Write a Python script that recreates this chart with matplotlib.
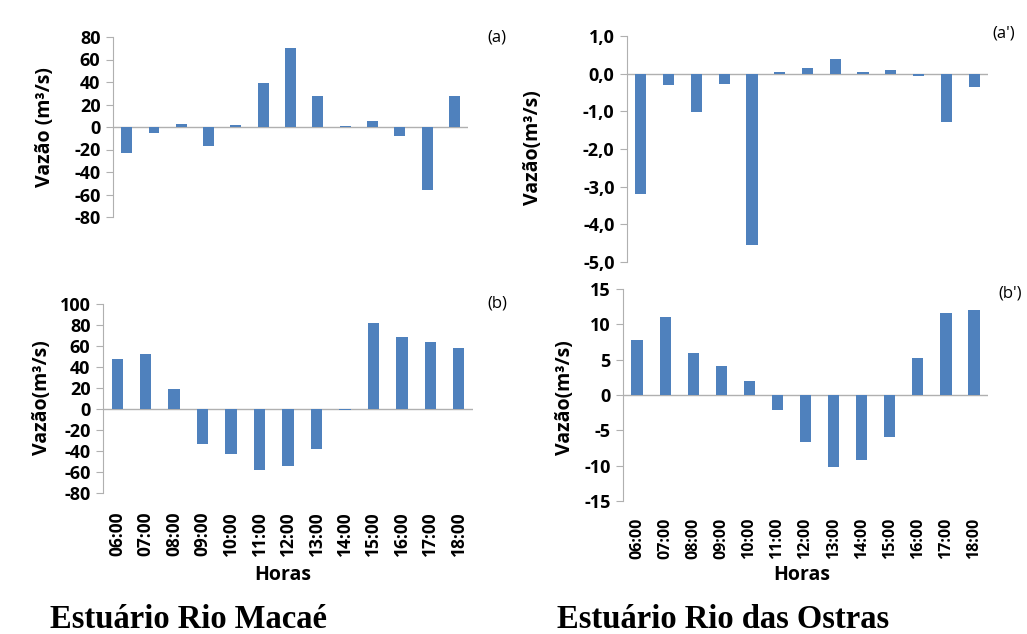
import matplotlib
matplotlib.use("Agg")
import matplotlib.pyplot as plt

plt.rcParams["font.family"] = ["Open Sans", "DejaVu Sans"]

horas = ["06:00", "07:00", "08:00", "09:00", "10:00", "11:00", "12:00",
         "13:00", "14:00", "15:00", "16:00", "17:00", "18:00"]

# Estuário Rio Macaé
macae_a = [-22.8, -5.0, 2.7, -16.6, 2.0, 39.0, 70.0, 27.3, 1.2, 5.3, -7.7, -56.3, 27.3]
macae_b = [47.9, 52.4, 18.7, -33.0, -43.2, -58.0, -54.3, -38.0, -1.0, 81.6, 68.6, 64.1, 58.1]

# Estuário Rio das Ostras
ostras_a = [-3.19, -0.31, -1.01, -0.28, -4.54, 0.04, 0.14, 0.40, 0.04, 0.09, -0.07, -1.29, -0.35]
ostras_b = [7.74, 11.1, 6.0, 4.1, 2.04, -2.1, -6.6, -10.2, -9.2, -5.9, 5.3, 11.6, 12.0]

BAR = "#4f81bd"
GRID = "#b0b0b0"
W, H = 1027, 634

fig = plt.figure(figsize=(W / 100, H / 100), dpi=100)


def px_axes(left, top, right, bottom):
    return fig.add_axes([left / W, 1 - bottom / H, (right - left) / W, (bottom - top) / H])


def fig_text(x, y, s, **kw):
    return fig.text(x / W, 1 - y / H, s, **kw)


def panel(box, values, ylim, yticks, ticklabels, tag, tag_xy, ylabel, ylab_xy,
          xlab_xy=None, xsize=12, xpad=13):
    ax = px_axes(*box)
    x = range(len(values))
    ax.bar(x, values, width=0.4, color=BAR, zorder=2)
    ax.axhline(0, color=GRID, lw=1.0, zorder=1)
    ax.set_xlim(-0.5, len(values) - 0.5)
    ax.set_ylim(*ylim)
    ax.set_yticks(yticks)
    ax.set_yticklabels(ticklabels, fontsize=13, fontweight="bold")
    for s in ["top", "right", "bottom"]:
        ax.spines[s].set_visible(False)
    ax.spines["left"].set_color(GRID)
    ax.tick_params(axis="y", length=5, color=GRID, pad=4)
    if xlab_xy is not None:
        ax.set_xticks(list(x))
        ax.set_xticklabels(horas, rotation=90, fontsize=xsize, fontweight="bold")
        ax.tick_params(axis="x", length=0, pad=xpad)
        fig_text(*xlab_xy, "Horas", fontsize=14, fontweight="bold", ha="center", va="center")
    else:
        ax.set_xticks([])
    fig_text(*tag_xy, tag, fontsize=12, ha="center", va="center")
    fig_text(*ylab_xy, ylabel, fontsize=14, fontweight="bold", rotation=90,
             ha="center", va="center")
    return ax


panel((113, 37, 468, 217), macae_a, (-80, 80), range(-80, 81, 20),
      [str(v) for v in range(-80, 81, 20)], "(a)", (497, 38),
      "Vazão (m³/s)", (45, 127))

panel((627, 36, 988, 262), ostras_a, (-5, 1), range(-5, 2),
      [f"{v},0" for v in range(-5, 2)], "(a')", (1004, 34),
      "Vazão(m³/s)", (533, 148))

panel((103, 304, 473, 493), macae_b, (-80, 100), range(-80, 101, 20),
      [str(v) for v in range(-80, 101, 20)], "(b)", (497, 303),
      "Vazão(m³/s)", (42, 398), xlab_xy=(283, 575), xsize=12.5, xpad=13.5)

panel((623, 289, 988, 501), ostras_b, (-15, 15), range(-15, 16, 5),
      [str(v) for v in range(-15, 16, 5)], "(b')", (1010, 293),
      "Vazão(m³/s)", (565, 398), xlab_xy=(802, 575), xsize=11.5, xpad=12)

fig_text(50, 628, "Estuário Rio Macaé", fontsize=23.5, fontweight="bold",
         family="Liberation Serif", ha="left", va="baseline")
fig_text(557, 628, "Estuário Rio das Ostras", fontsize=23.5, fontweight="bold",
         family="Liberation Serif", ha="left", va="baseline")

fig.savefig("out.png", dpi=100)
